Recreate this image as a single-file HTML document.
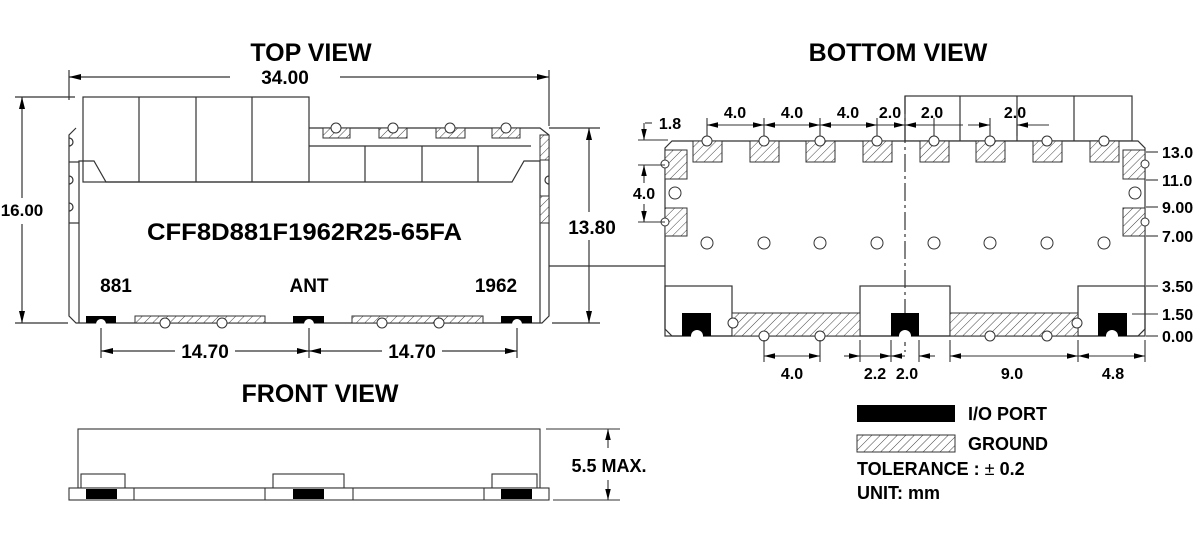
<!DOCTYPE html>
<html><head><meta charset="utf-8"><style>
html,body{margin:0;padding:0;background:#fff;}
svg{display:block;font-family:"Liberation Sans",Arial,sans-serif;font-weight:bold;}
</style></head><body>
<svg width="1200" height="543" viewBox="0 0 1200 543" xmlns="http://www.w3.org/2000/svg">
<defs>
<pattern id="h" width="6" height="6" patternUnits="userSpaceOnUse" patternTransform="rotate(45)">
<rect width="6" height="6" fill="#fff"/><line x1="0" y1="0" x2="0" y2="6" stroke="#444" stroke-width="1"/></pattern>
<marker id="a" viewBox="0 0 10 6" refX="10" refY="3" markerWidth="10" markerHeight="6" orient="auto-start-reverse"><path d="M0,0.5 L10,3 L0,5.5 z" fill="#000"/></marker>
</defs>
<g fill="none" stroke="#333" stroke-width="1.2">
<!-- TOP VIEW -->
<line x1="69" y1="70" x2="69" y2="100"/><line x1="549" y1="70" x2="549" y2="126"/>
<line x1="69" y1="77" x2="230" y2="77" marker-start="url(#a)"/><line x1="340" y1="77" x2="549" y2="77" marker-end="url(#a)"/>
<rect x="83" y="97" width="226" height="85"/>
<line x1="139" y1="97" x2="139" y2="182"/><line x1="196" y1="97" x2="196" y2="182"/><line x1="252" y1="97" x2="252" y2="182"/>
<polyline points="309,128 540,128 549,135"/>
<line x1="309" y1="146" x2="531" y2="146"/>
<line x1="365" y1="146" x2="365" y2="182"/><line x1="422" y1="146" x2="422" y2="182"/><line x1="478" y1="146" x2="478" y2="182"/>
<path d="M76,128 L69,135 L69,316 L76,323 L542,323 L549,316 L549,135" />
<polyline points="79,323 79,161 94,161 106,182 512,182 524,161 540,161 540,323"/>
<path d="M69,138 a4,4 0 0 1 0,8 M69,176 a4,4 0 0 1 0,8 M69,203 a4,4 0 0 1 0,8"/>
<line x1="69" y1="162" x2="79" y2="162"/><line x1="69" y1="223" x2="79" y2="223"/>
<path d="M549,138 a4,4 0 0 0 0,8 M549,176 a4,4 0 0 0 0,8 M549,203 a4,4 0 0 0 0,8"/>
</g>
<g stroke="#333" stroke-width="1">
<rect x="323" y="128" width="27" height="10" fill="url(#h)"/><rect x="379" y="128" width="28" height="10" fill="url(#h)"/>
<rect x="436" y="128" width="29" height="10" fill="url(#h)"/><rect x="492" y="128" width="28" height="10" fill="url(#h)"/>
<rect x="540" y="135" width="9" height="25" fill="url(#h)"/><rect x="540" y="196" width="9" height="27" fill="url(#h)"/>
<rect x="135" y="316" width="130" height="7" fill="url(#h)"/><rect x="352" y="316" width="131" height="7" fill="url(#h)"/>
</g>
<g fill="#fff" stroke="#333" stroke-width="1">
<circle cx="336" cy="128" r="5"/><circle cx="393" cy="128" r="5"/><circle cx="450" cy="128" r="5"/><circle cx="506" cy="128" r="5"/>
<circle cx="165" cy="323" r="5"/><circle cx="222" cy="323" r="5"/><circle cx="382" cy="323" r="5"/><circle cx="439" cy="323" r="5"/>
</g>
<rect x="86" y="316" width="30" height="7" fill="#000"/><rect x="293" y="316" width="31" height="7" fill="#000"/><rect x="501" y="316" width="31" height="7" fill="#000"/>
<circle cx="101" cy="324" r="5" fill="#fff"/><circle cx="309" cy="324" r="5" fill="#fff"/><circle cx="517" cy="324" r="5" fill="#fff"/>
<g fill="none" stroke="#333" stroke-width="1.2">
<line x1="15" y1="97" x2="75" y2="97"/><line x1="15" y1="323" x2="68" y2="323"/>
<line x1="22" y1="97" x2="22" y2="198" marker-start="url(#a)"/><line x1="22" y1="224" x2="22" y2="323" marker-end="url(#a)"/>
<line x1="549" y1="128" x2="600" y2="128"/><line x1="552" y1="323" x2="600" y2="323"/>
<line x1="589" y1="128" x2="589" y2="212" marker-start="url(#a)"/><line x1="589" y1="240" x2="589" y2="323" marker-end="url(#a)"/>
<line x1="549" y1="266" x2="665" y2="266"/>
<line x1="101" y1="328" x2="101" y2="358"/><line x1="309" y1="328" x2="309" y2="358"/><line x1="517" y1="328" x2="517" y2="358"/>
<line x1="101" y1="351" x2="175" y2="351" marker-start="url(#a)"/><line x1="235" y1="351" x2="309" y2="351" marker-end="url(#a)"/>
<line x1="309" y1="351" x2="382" y2="351" marker-start="url(#a)"/><line x1="442" y1="351" x2="517" y2="351" marker-end="url(#a)"/>
</g>
<g font-size="25" text-anchor="middle">
<text x="311" y="61">TOP VIEW</text><text x="898" y="61">BOTTOM VIEW</text><text x="320" y="402">FRONT VIEW</text>
</g>
<g font-size="19" text-anchor="middle">
<text x="285" y="84">34.00</text>
<text x="22" y="216" font-size="17" stroke="#fff" stroke-width="6" paint-order="stroke">16.00</text>
<text x="592" y="234" font-size="19" stroke="#fff" stroke-width="6" paint-order="stroke">13.80</text>
<text x="205" y="358">14.70</text><text x="412" y="358">14.70</text>
</g>
<text x="147" y="240" font-size="24" textLength="315" lengthAdjust="spacingAndGlyphs">CFF8D881F1962R25-65FA</text>
<g font-size="19" text-anchor="middle"><text x="116" y="292">881</text><text x="309" y="292">ANT</text><text x="496" y="292">1962</text></g>

<!-- BOTTOM VIEW -->
<g fill="none" stroke="#333" stroke-width="1.2">
<rect x="905" y="96" width="227" height="45"/>
<line x1="960" y1="96" x2="960" y2="141"/><line x1="1017" y1="96" x2="1017" y2="141"/><line x1="1074" y1="96" x2="1074" y2="141"/>
<path d="M672,141 L1138,141 L1145,148 L1145,329 L1138,336 L672,336 L665,329 L665,148 Z" fill="#fff"/>
<rect x="665" y="286" width="67" height="50"/><rect x="860" y="286" width="90" height="50"/><rect x="1078" y="286" width="67" height="50"/>
<line x1="905" y1="96" x2="905" y2="352" stroke-dasharray="18,4,3,4"/>
</g>
<g stroke="#333" stroke-width="1">
<rect x="693" y="141" width="29" height="21" fill="url(#h)"/><rect x="750" y="141" width="29" height="21" fill="url(#h)"/>
<rect x="806" y="141" width="29" height="21" fill="url(#h)"/><rect x="863" y="141" width="29" height="21" fill="url(#h)"/>
<rect x="920" y="141" width="29" height="21" fill="url(#h)"/><rect x="976" y="141" width="29" height="21" fill="url(#h)"/>
<rect x="1033" y="141" width="29" height="21" fill="url(#h)"/><rect x="1090" y="141" width="29" height="21" fill="url(#h)"/>
<rect x="665" y="150" width="22" height="29" fill="url(#h)"/><rect x="665" y="208" width="22" height="28" fill="url(#h)"/>
<rect x="1123" y="150" width="22" height="29" fill="url(#h)"/><rect x="1123" y="208" width="22" height="28" fill="url(#h)"/>
<rect x="732" y="313" width="128" height="23" fill="url(#h)"/><rect x="950" y="313" width="128" height="23" fill="url(#h)"/>
</g>
<rect x="682" y="313" width="29" height="23" fill="#000"/><rect x="891" y="313" width="28" height="23" fill="#000"/><rect x="1098" y="313" width="29" height="23" fill="#000"/>
<g fill="#fff" stroke="#333" stroke-width="1">
<circle cx="707" cy="141" r="5"/><circle cx="764" cy="141" r="5"/><circle cx="820" cy="141" r="5"/><circle cx="877" cy="141" r="5"/>
<circle cx="934" cy="141" r="5"/><circle cx="990" cy="141" r="5"/><circle cx="1047" cy="141" r="5"/><circle cx="1104" cy="141" r="5"/>
<circle cx="665" cy="164" r="4"/><circle cx="665" cy="222" r="4"/><circle cx="1145" cy="164" r="4"/><circle cx="1145" cy="222" r="4"/>
<circle cx="675" cy="193" r="6"/><circle cx="1135" cy="193" r="6"/>
<circle cx="707" cy="243" r="6"/><circle cx="764" cy="243" r="6"/><circle cx="820" cy="243" r="6"/><circle cx="877" cy="243" r="6"/>
<circle cx="934" cy="243" r="6"/><circle cx="990" cy="243" r="6"/><circle cx="1047" cy="243" r="6"/><circle cx="1104" cy="243" r="6"/>
<circle cx="764" cy="336" r="5"/><circle cx="820" cy="336" r="5"/><circle cx="990" cy="336" r="5"/><circle cx="1047" cy="336" r="5"/>
<circle cx="733" cy="323" r="5"/><circle cx="1077" cy="323" r="5"/>
<circle cx="697" cy="336" r="6" stroke="none"/><circle cx="905" cy="336" r="6" stroke="none"/><circle cx="1112" cy="336" r="6" stroke="none"/>
</g>
<g fill="none" stroke="#333" stroke-width="1.1">
<line x1="707" y1="118" x2="707" y2="136"/><line x1="764" y1="118" x2="764" y2="136"/><line x1="820" y1="118" x2="820" y2="136"/>
<line x1="877" y1="118" x2="877" y2="136"/><line x1="934" y1="118" x2="934" y2="136"/><line x1="990" y1="118" x2="990" y2="136"/><line x1="1017" y1="118" x2="1017" y2="136"/>
<line x1="707" y1="125" x2="764" y2="125" marker-start="url(#a)" marker-end="url(#a)"/>
<line x1="764" y1="125" x2="820" y2="125" marker-start="url(#a)" marker-end="url(#a)"/>
<line x1="820" y1="125" x2="877" y2="125" marker-start="url(#a)" marker-end="url(#a)"/>
<line x1="877" y1="125" x2="905" y2="125" marker-end="url(#a)"/><line x1="905" y1="125" x2="940" y2="125" marker-start="url(#a)"/>
<line x1="934" y1="125" x2="963" y2="125"/>
<line x1="968" y1="125" x2="990" y2="125" marker-end="url(#a)"/><line x1="1017" y1="125" x2="1049" y2="125" marker-start="url(#a)"/>
<line x1="645" y1="123" x2="652" y2="123"/><line x1="638" y1="140" x2="668" y2="140"/><line x1="638" y1="165" x2="665" y2="165"/><line x1="638" y1="222" x2="665" y2="222"/>
<line x1="644" y1="123" x2="644" y2="140" marker-end="url(#a)"/><line x1="644" y1="165" x2="644" y2="183" marker-start="url(#a)"/>
<line x1="644" y1="204" x2="644" y2="222" marker-end="url(#a)"/>
<line x1="1146" y1="152" x2="1158" y2="152"/><line x1="1146" y1="180" x2="1158" y2="180"/><line x1="1146" y1="207" x2="1158" y2="207"/>
<line x1="1146" y1="236" x2="1158" y2="236"/><line x1="1146" y1="286" x2="1158" y2="286"/><line x1="1132" y1="314" x2="1158" y2="314"/><line x1="1146" y1="336" x2="1158" y2="336"/>
<line x1="764" y1="340" x2="764" y2="362"/><line x1="820" y1="340" x2="820" y2="362"/><line x1="860" y1="340" x2="860" y2="362"/>
<line x1="891" y1="340" x2="891" y2="362"/><line x1="919" y1="340" x2="919" y2="362"/><line x1="950" y1="340" x2="950" y2="362"/>
<line x1="1078" y1="340" x2="1078" y2="362"/><line x1="1145" y1="340" x2="1145" y2="362"/>
<line x1="764" y1="356" x2="820" y2="356" marker-start="url(#a)" marker-end="url(#a)"/>
<line x1="844" y1="356" x2="860" y2="356" marker-end="url(#a)"/><line x1="860" y1="356" x2="891" y2="356" marker-end="url(#a)"/>
<line x1="891" y1="356" x2="905" y2="356" marker-start="url(#a)"/><line x1="919" y1="356" x2="935" y2="356" marker-start="url(#a)"/>
<line x1="950" y1="356" x2="1078" y2="356" marker-start="url(#a)" marker-end="url(#a)"/>
<line x1="1078" y1="356" x2="1145" y2="356" marker-start="url(#a)" marker-end="url(#a)"/>
</g>
<g font-size="16" text-anchor="middle">
<text x="735" y="118">4.0</text><text x="792" y="118">4.0</text><text x="848" y="118">4.0</text><text x="890" y="118">2.0</text>
<text x="932" y="118">2.0</text><text x="1015" y="118">2.0</text>
<text x="670" y="129">1.8</text><text x="644" y="199">4.0</text>
<text x="792" y="379">4.0</text><text x="875" y="379">2.2</text><text x="907" y="379">2.0</text><text x="1012" y="379">9.0</text><text x="1113" y="379">4.8</text>
</g>
<g font-size="16"><text x="1162" y="158">13.0</text><text x="1162" y="186">11.0</text><text x="1162" y="213">9.00</text><text x="1162" y="242">7.00</text>
<text x="1162" y="292">3.50</text><text x="1162" y="320">1.50</text><text x="1162" y="342">0.00</text></g>

<!-- FRONT VIEW -->
<g fill="none" stroke="#333" stroke-width="1.1">
<rect x="78" y="429" width="462" height="59"/>
<rect x="81" y="474" width="44" height="14" fill="#fff"/><rect x="273" y="474" width="71" height="14" fill="#fff"/><rect x="492" y="474" width="45" height="14" fill="#fff"/>
<rect x="69" y="488" width="480" height="12" fill="#fff"/>
<line x1="134" y1="488" x2="134" y2="500"/><line x1="265" y1="488" x2="265" y2="500"/><line x1="353" y1="488" x2="353" y2="500"/><line x1="484" y1="488" x2="484" y2="500"/>
<line x1="546" y1="429" x2="620" y2="429"/><line x1="553" y1="500" x2="620" y2="500"/>
<line x1="608" y1="429" x2="608" y2="448" marker-start="url(#a)"/><line x1="608" y1="480" x2="608" y2="500" marker-end="url(#a)"/>
</g>
<rect x="86" y="489" width="31" height="10" fill="#000"/><rect x="293" y="489" width="31" height="10" fill="#000"/><rect x="501" y="489" width="31" height="10" fill="#000"/>
<text x="609" y="472" font-size="18" text-anchor="middle">5.5 MAX.</text>

<!-- LEGEND -->
<rect x="857" y="405" width="98" height="17" fill="#000"/>
<rect x="857" y="435" width="98" height="17" fill="url(#h)" stroke="#333"/>
<g font-size="18"><text x="968" y="420">I/O PORT</text><text x="968" y="450">GROUND</text>
<text x="857" y="475">TOLERANCE : <tspan font-weight="normal">±</tspan> 0.2</text><text x="857" y="499">UNIT: mm</text></g>
</svg>
</body></html>
